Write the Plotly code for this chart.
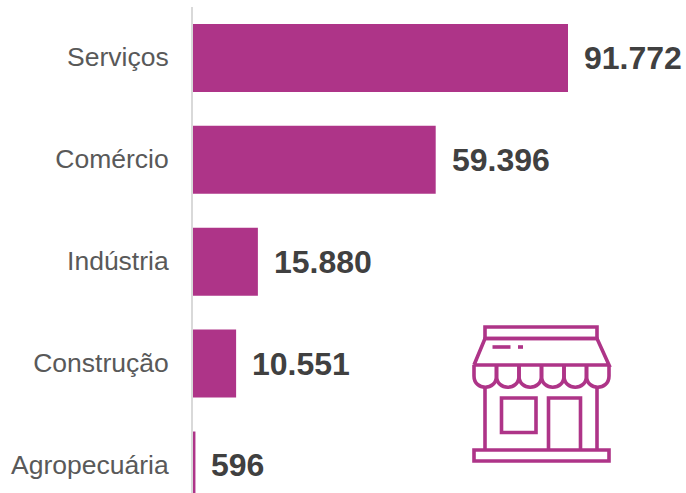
import plotly.graph_objects as go

categories = ["Serviços", "Comércio", "Indústria", "Construção", "Agropecuária"]
values = [91772, 59396, 15880, 10551, 596]

BAR = "#AE3488"
W, H = 686, 493
ML, MT = 193, 7


def fx(p):
    return (p - ML) / (W - ML)


def fy(p):
    return 1 - (p - MT) / (H - MT)


def label(v):
    return f"{v:,}".replace(",", ".")


fig = go.Figure(go.Bar(
    x=values, y=categories, orientation="h",
    marker=dict(color=BAR, line=dict(width=0)),
    width=0.667, hoverinfo="skip",
))

for c, v in zip(categories, values):
    fig.add_annotation(
        x=v, y=c, xref="x", yref="y", text=f"<b>{label(v)}</b>", showarrow=False,
        xanchor="left", yanchor="middle", xshift=14, yshift=0,
        font=dict(family="Liberation Sans", size=32, color="#404040"),
    )


def shape(d, fill=None):
    return dict(type="path", path=d, xref="paper", yref="paper",
                line=dict(color=BAR, width=3.6),
                fillcolor=fill if fill else "rgba(0,0,0,0)", layer="above")


def P(*pts):
    return "M" + " L".join(f"{fx(x):.5f},{fy(y):.5f}" for x, y in pts)


shapes = [
    shape(P((485, 327), (597, 327), (597, 338.5), (485, 338.5)) + " Z"),
    shape(P((474, 365), (485, 338.5), (597, 338.5), (609, 365), (474, 365))),
    shape(P((492.5, 347), (510.5, 347))),
    shape(P((518, 347), (523, 347))),
    shape(P((485, 388), (485, 450))),
    shape(P((597, 388), (597, 450))),
    shape(P((501.5, 398), (536, 398), (536, 432.5), (501.5, 432.5)) + " Z"),
    shape(P((548.5, 450), (548.5, 398), (580.5, 398), (580.5, 450))),
    shape(P((474, 450), (609, 450), (609, 461), (474, 461)) + " Z"),
]
for i in range(6):
    x0 = 474 + i * 22.5
    x1 = x0 + 22.5
    y0, y1 = 365, 376
    yc = y1 + 15
    shapes.append(shape(
        f"M{fx(x0):.5f},{fy(y0):.5f} L{fx(x0):.5f},{fy(y1):.5f} "
        f"C{fx(x0):.5f},{fy(yc):.5f} {fx(x1):.5f},{fy(yc):.5f} {fx(x1):.5f},{fy(y1):.5f} "
        f"L{fx(x1):.5f},{fy(y0):.5f}"
    ))

fig.update_layout(
    width=W, height=H,
    margin=dict(l=ML, r=0, t=MT, b=0, pad=0),
    paper_bgcolor="white", plot_bgcolor="white",
    showlegend=False, shapes=shapes,
    xaxis=dict(range=[0, 120650], visible=False, fixedrange=True),
    yaxis=dict(
        categoryorder="array", categoryarray=categories,
        range=[4.27, -0.5], showgrid=False, zeroline=False, fixedrange=True,
        showline=True, linecolor="#D9D9D9", linewidth=2, ticks="",
        ticklabelstandoff=17, ticklabelshift=1,
        tickfont=dict(family="Liberation Sans", size=26.5, color="#595959"),
    ),
)
fig.write_html(
    "out.html",
    config={"displayModeBar": False},
    post_script="document.body.style.margin='0';document.body.style.overflow='hidden';",
)
